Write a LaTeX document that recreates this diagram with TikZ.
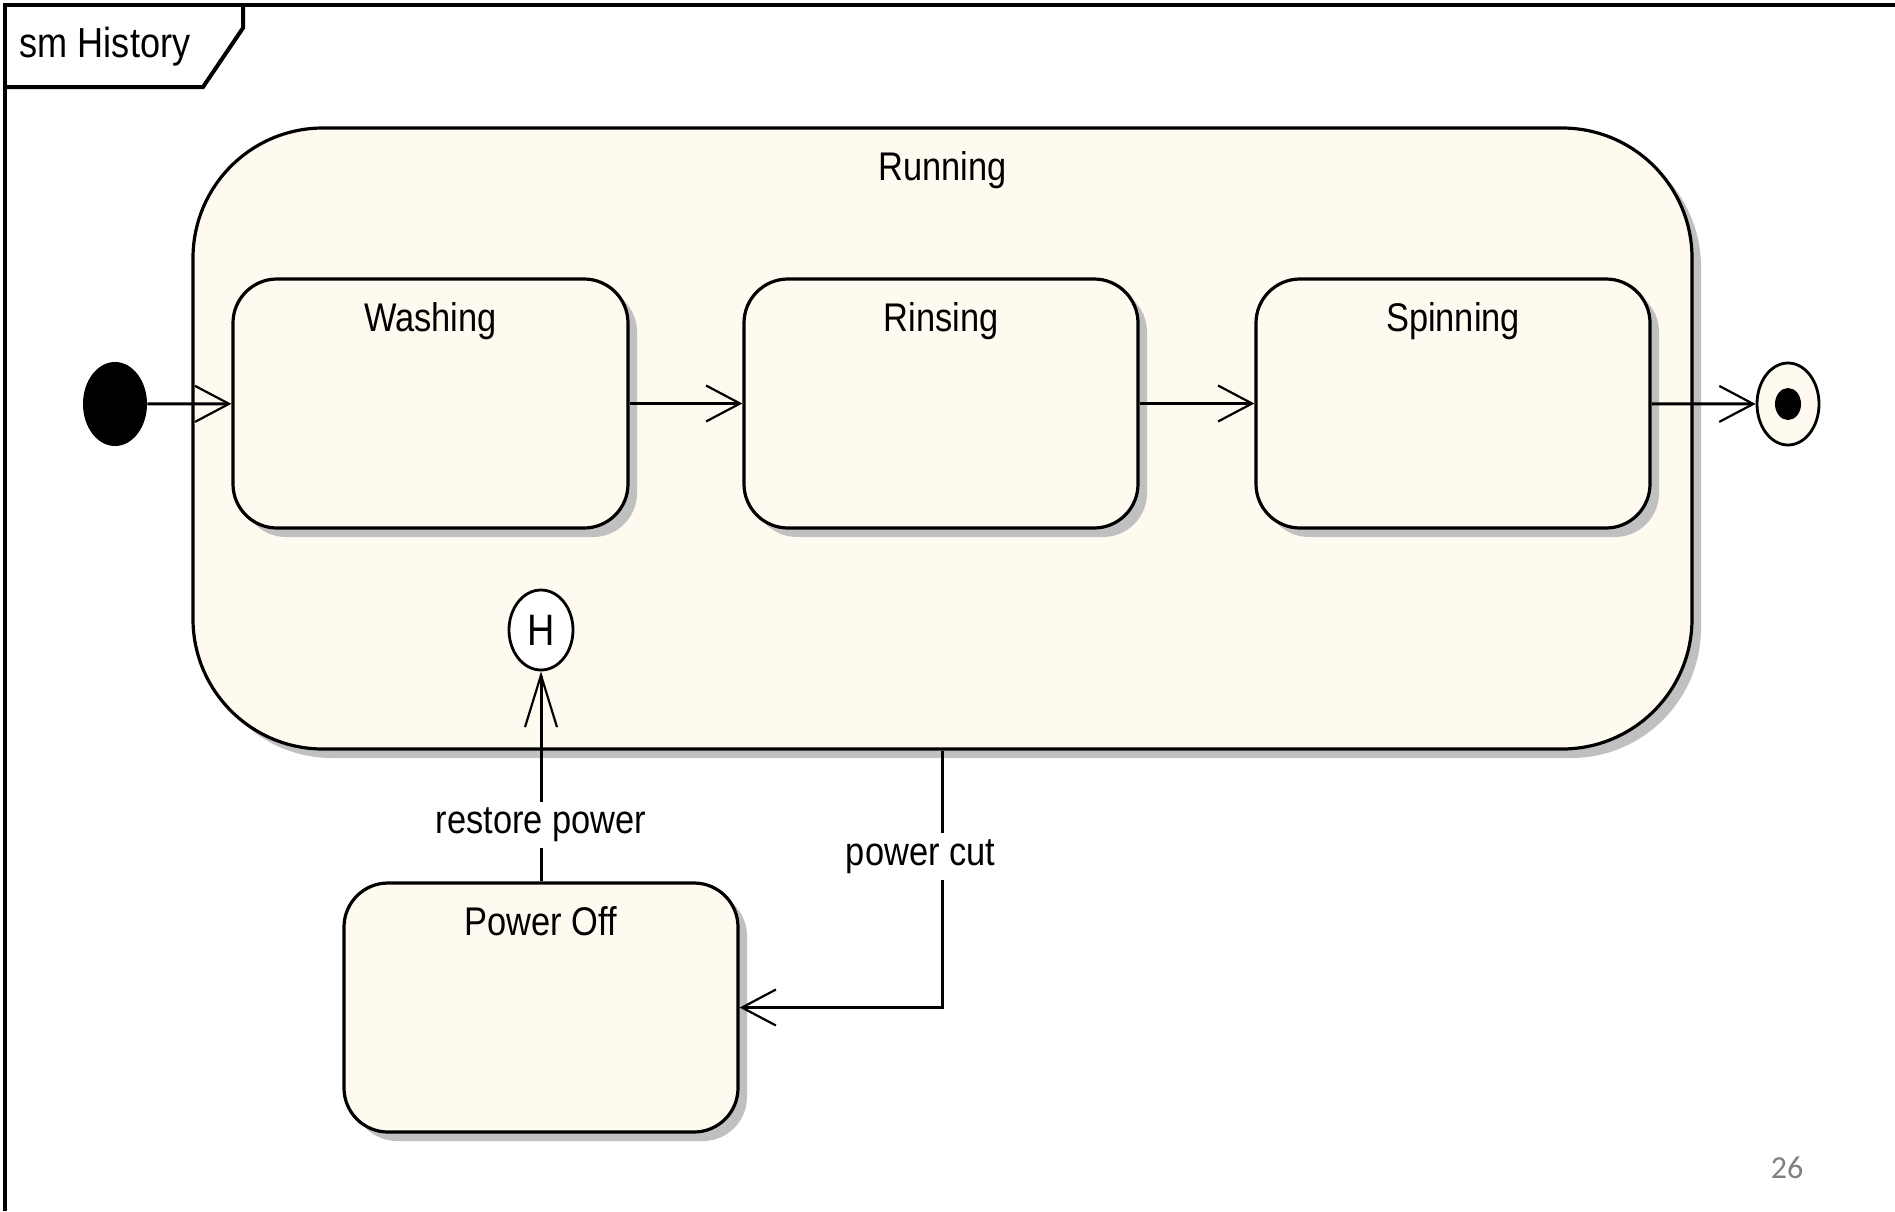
\documentclass[tikz,border=0pt]{standalone}
\usepackage{fontspec}
\newfontfamily\umlfont[FakeStretch=0.86]{Liberation Sans}
\newfontfamily\pagefont{Carlito}
\usetikzlibrary{shapes.geometric,arrows.meta,shadows}
\definecolor{cream}{RGB}{255,250,240}
\definecolor{shadowgray}{RGB}{192,192,192}
\definecolor{pagegray}{RGB}{128,128,128}
\tikzset{
  lbl/.style={font=\umlfont\fontsize{20}{24}\selectfont, inner sep=0pt},
  statebox/.style={draw, line width=1.6pt, fill=cream, rounded corners=22pt,
    general shadow={fill=shadowgray, shadow xshift=4.5pt, shadow yshift=-4.5pt}},
  conn/.style={line width=1.5pt, -{Straight Barb[length=17pt,width=18pt,line width=1.1pt]}},
  onlabel/.style={lbl, fill=white, inner sep=3pt},
}
\begin{document}
\begin{tikzpicture}[x=0.5pt,y=-0.5pt]
\useasboundingbox[fill=white] (0,0) rectangle (1895,1211);
% frame
\draw[line width=2pt] (5,1211) -- (5,5) -- (1895,5);
\draw[line width=2pt] (5,87) -- (203,87) -- (243,28) -- (243,5);
\node[lbl, font=\umlfont\fontsize{21}{24}\selectfont] (title) at (105,47) {sm History};
% composite state
\node[statebox, rounded corners=65pt, minimum width=749.5pt, minimum height=310.5pt,
  label={[lbl, below=12.5pt]north:Running}] (Running) at (942.5,438.5) {};
% substates
\node[statebox, minimum width=197.5pt, minimum height=124.5pt,
  label={[lbl, below=12.5pt]north:Washing}] (Washing) at (430.5,403.5) {};
\node[statebox, minimum width=197pt, minimum height=124.5pt,
  label={[lbl, below=12.5pt]north:Rinsing}] (Rinsing) at (941,403.5) {};
\node[statebox, minimum width=197pt, minimum height=124.5pt,
  label={[lbl, below=12.5pt]north:Spinning}] (Spinning) at (1453,403.5) {};
\node[statebox, minimum width=197pt, minimum height=124.5pt,
  label={[lbl, below=12.5pt]north:Power Off}] (PowerOff) at (541,1007.5) {};
% history
\node[ellipse, draw, line width=1.4pt, fill=white, minimum width=32pt, minimum height=40pt,
  inner sep=0pt, font=\umlfont\fontsize{22}{24}\selectfont] (H) at (541,630) {H};
% initial and final
\node[ellipse, fill=black, minimum width=32pt, minimum height=42pt, inner sep=0pt] (Init) at (115,404) {};
\node[ellipse, draw, line width=1.4pt, fill=cream, minimum width=31pt, minimum height=41pt, inner sep=0pt] (Final) at (1788,404) {};
\node[ellipse, fill=black, minimum width=13pt, minimum height=16pt, inner sep=0pt] (FinalDot) at (Final.center) {};
% transitions
\draw[conn] (Init) -- (Washing);
\draw[conn] (Washing) -- (Rinsing);
\draw[conn] (Rinsing) -- (Spinning);
\draw[conn] (Spinning) -- (Final);
\draw[conn, -{Straight Barb[length=26pt,width=16pt,line width=1.1pt]}] (PowerOff.north) -- (H.south)
  node[onlabel, pos=0.27] (restore) {restore power};
\draw[conn] (Running.south) |- (PowerOff.east)
  node[onlabel, pos=0.206, xshift=-11pt] (cut) {power cut};
% page number
\node[font=\pagefont\fontsize{16}{18}\selectfont, text=pagegray, inner sep=0pt] (page) at (1787,1168) {26};
\end{tikzpicture}
\end{document}
